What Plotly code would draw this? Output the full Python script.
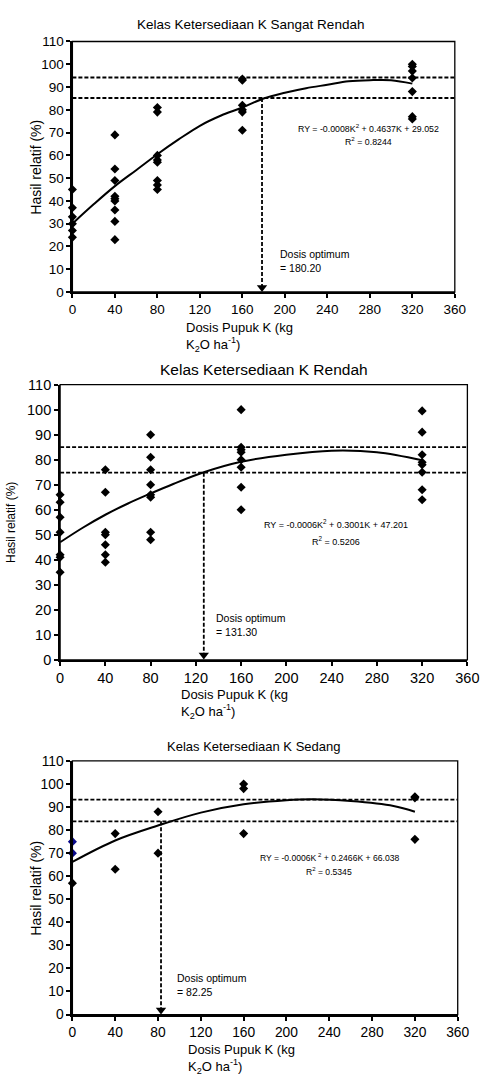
import plotly.graph_objects as go

W, H = 491, 1078

# ---------------- data ----------------
titles = ["Kelas Ketersediaan K Sangat Rendah", "Kelas Ketersediaan K Rendah", "Kelas Ketersediaan K Sedang"]

# Panel 1: Sangat Rendah
p1_x = [0]*6 + [40]*9 + [80]*8 + [160]*6 + [320]*7
p1_y = [45, 37, 33, 30, 27, 24,
        69, 54, 49, 42, 41, 40, 36, 31, 23,
        81, 79, 60, 58, 57, 49, 47, 45,
        93.5, 93, 82, 80, 79, 71,
        100, 99, 97, 94, 88, 77, 76]
p1_curve_k = [0, 20, 40, 60, 80, 100, 120, 140, 160, 180, 200, 220, 240, 260, 280, 300, 320]
p1_curve_y = [30, 38.5, 46.5, 53.5, 60.5, 67, 73, 77.5, 81, 85, 87.5, 89.5, 91, 92.5, 93, 93, 91.5]
p1_hlines = [94.2, 85.2]
p1_opt = 178.5
p1_eq = "RY = -0.0008K<sup>2</sup> + 0.4637K + 29.052"
p1_r2 = "R<sup>2</sup> = 0.8244"
p1_dose = "Dosis optimum<br>= 180.20"

# Panel 2: Rendah
p2_x = [0]*7 + [40]*7 + [80]*8 + [160]*8 + [320]*8
p2_y = [66, 63, 57, 51, 42, 41, 35,
        76, 67, 51, 50, 46, 42, 39,
        90, 81, 76, 70, 66, 65, 51, 48,
        100, 85, 84, 83, 80, 77, 69, 60,
        99.5, 91, 82, 79, 78, 75, 68, 64]
p2_curve_k = [0, 20, 40, 60, 80, 100, 127, 160, 200, 240, 280, 320]
p2_curve_y = [47, 52.8, 58, 62.5, 66.5, 70.3, 75, 79.2, 82, 83.6, 83, 79.8]
p2_hlines = [85, 74.8]
p2_opt = 127
p2_eq = "RY = -0.0006K<sup>2</sup> + 0.3001K + 47.201"
p2_r2 = "R<sup>2</sup> = 0.5206"
p2_dose = "Dosis optimum<br>= 131.30"

# Panel 3: Sedang
p3_x = [0, 0, 0, 40, 40, 80, 80, 160, 160, 160, 320, 320, 320]
p3_y = [75, 70, 57, 78.5, 63, 88, 70, 100, 98, 78.5, 94.5, 94, 76]
p3_blue = [True, True, False, False, False, False, False, False, False, False, False, False, False]
p3_curve_k = [0, 40, 80, 120, 160, 200, 225, 260, 300, 320]
p3_curve_y = [66.2, 75.5, 82, 87.6, 91.2, 93, 93.4, 92.6, 90.5, 88]
p3_hlines = [93.2, 83.8]
p3_opt = 82.8
p3_eq = "RY = -0.0006K<sup> 2</sup> + 0.2466K + 66.038"
p3_r2 = "R<sup>2</sup> = 0.5345"
p3_dose = "Dosis optimum<br>= 82.25"

x_ticks = [0, 40, 80, 120, 160, 200, 240, 280, 320, 360]
y_ticks = [0, 10, 20, 30, 40, 50, 60, 70, 80, 90, 100, 110]

# ---------------- layout (pixels) ----------------
# (x_left, x_right, y_top, y_bottom) of plot area
boxes = [(70.7, 466, 34, 288.3), (58, 479, 382.3, 661.7), (70.7, 469, 764.3, 1021.7)]
title_xy = [(255, 17), (268.5, 367), (258, 750)]
title_size = [13.5, 15.5, 13]
tick_size = [13.5, 14.5, 13.8]
ytitle_x = [33, 8, 33]
ytitle_size = [14, 12, 14]
xtitle_x = [186, 181, 188]
eq_pos = [(377, 122, 135), (343, 524, 541), (336, 862, 877)]
eq_size = [8.8, 9, 8.6]
dose_pos = [(283, 249), (217, 618), (177, 983)]

FONT = "Liberation Sans, Arial, sans-serif"

def px(x):
    return x / W

def py(y):
    return 1 - y / H

fig = go.Figure()
panels = [
    (p1_x, p1_y, None, p1_curve_k, p1_curve_y, p1_hlines, p1_opt, p1_eq, p1_r2, p1_dose),
    (p2_x, p2_y, None, p2_curve_k, p2_curve_y, p2_hlines, p2_opt, p2_eq, p2_r2, p2_dose),
    (p3_x, p3_y, p3_blue, p3_curve_k, p3_curve_y, p3_hlines, p3_opt, p3_eq, p3_r2, p3_dose),
]

annotations = []
shapes = []
for i, (xs, ys, blue, ck, cy, hl, opt, eq, r2, dose) in enumerate(panels):
    n = i + 1
    xa = "x" if n == 1 else f"x{n}"
    ya = "y" if n == 1 else f"y{n}"
    xl, xr, yt, yb = boxes[i]
    xkey = "xaxis" if n == 1 else f"xaxis{n}"
    ykey = "yaxis" if n == 1 else f"yaxis{n}"
    tf = dict(family=FONT, size=tick_size[i], color="black")
    fig.update_layout(**{
        xkey: dict(domain=[px(xl), px(xr)], anchor=ya, range=[0, 360], tickvals=x_ticks,
                   ticks="outside", ticklen=4, tickwidth=1.5, tickcolor="black",
                   showline=True, linecolor="black", linewidth=2, showgrid=False, zeroline=False,
                   tickfont=tf),
        ykey: dict(domain=[py(yb), py(yt)], anchor=xa, range=[0, 110], tickvals=y_ticks,
                   ticks="outside", ticklen=4, tickwidth=1.5, tickcolor="black",
                   showline=True, linecolor="black", linewidth=2, showgrid=False, zeroline=False,
                   tickfont=tf),
    })
    # frame
    shapes.append(dict(type="rect", xref="paper", yref="paper", x0=px(xl), x1=px(xr), y0=py(yb), y1=py(yt),
                       line=dict(color="black", width=1.3)))
    # horizontal dashed lines
    for h in hl:
        shapes.append(dict(type="line", xref=xa, yref=ya, x0=0, x1=360, y0=h, y1=h,
                           line=dict(color="black", width=1.8, dash="4px,2px")))
    # vertical dashed line
    shapes.append(dict(type="line", xref=xa, yref=ya, x0=opt, x1=opt, y0=min(hl), y1=2,
                       line=dict(color="black", width=1.8, dash="4px,2px")))
    # scatter points
    if blue is None:
        colors = "black"
    else:
        colors = ["#0a0a8c" if b else "black" for b in blue]
    fig.add_trace(go.Scatter(x=xs, y=ys, mode="markers", xaxis=xa, yaxis=ya,
                             marker=dict(symbol="diamond", size=7, color=colors), showlegend=False,
                             cliponaxis=False, hoverinfo="skip"))
    # curve
    fig.add_trace(go.Scatter(x=ck, y=cy, mode="lines", xaxis=xa, yaxis=ya,
                             line=dict(color="black", width=2, shape="spline"), showlegend=False,
                             hoverinfo="skip"))
    # arrow head
    fig.add_trace(go.Scatter(x=[opt], y=[2], mode="markers", xaxis=xa, yaxis=ya,
                             marker=dict(symbol="triangle-down", size=9, color="black"), showlegend=False,
                             cliponaxis=False, hoverinfo="skip"))
    # title
    tx, ty = title_xy[i]
    annotations.append(dict(text=titles[i], x=px(tx), y=py(ty), xref="paper", yref="paper",
                            showarrow=False, font=dict(family=FONT, size=title_size[i], color="black"),
                            xanchor="center", yanchor="middle"))
    # y title
    annotations.append(dict(text="Hasil relatif (%)", x=px(ytitle_x[i]), y=py((yt + yb) / 2), xref="paper", yref="paper",
                            showarrow=False, textangle=-90,
                            font=dict(family=FONT, size=ytitle_size[i], color="black"),
                            xanchor="center", yanchor="middle"))
    # x title
    annotations.append(dict(text="Dosis Pupuk K (kg<br>K<sub>2</sub>O ha<sup>-1</sup>)", x=px(xtitle_x[i]),
                            y=py(yb + 26), xref="paper", yref="paper", showarrow=False, align="left",
                            font=dict(family=FONT, size=13, color="black"), xanchor="left", yanchor="top"))
    # equation
    ex, ey1, ey2 = eq_pos[i]
    annotations.append(dict(text=eq, x=px(ex), y=py(ey1), xref="paper", yref="paper", showarrow=False,
                            font=dict(family=FONT, size=eq_size[i], color="black"), xanchor="center", yanchor="middle"))
    annotations.append(dict(text=r2, x=px(ex), y=py(ey2), xref="paper", yref="paper", showarrow=False,
                            font=dict(family=FONT, size=eq_size[i], color="black"), xanchor="center", yanchor="middle"))
    # dose
    dx, dy = dose_pos[i]
    annotations.append(dict(text=dose, x=px(dx), y=py(dy - 7), xref="paper", yref="paper", showarrow=False,
                            align="left", font=dict(family=FONT, size=10.5, color="black"),
                            xanchor="left", yanchor="top"))

fig.update_layout(autosize=True, margin=dict(l=0, r=0, t=0, b=0),
                  paper_bgcolor="white", plot_bgcolor="white", hovermode=False,
                  annotations=annotations, shapes=shapes, showlegend=False)

# figure div pinned to the page's top-left corner (avoids the default 8px body margin)
fig.write_html("out.html", config={"displayModeBar": False, "responsive": True},
               default_width=f"{W}px;position:absolute;left:0;top:0",
               default_height=f"{H}px")
